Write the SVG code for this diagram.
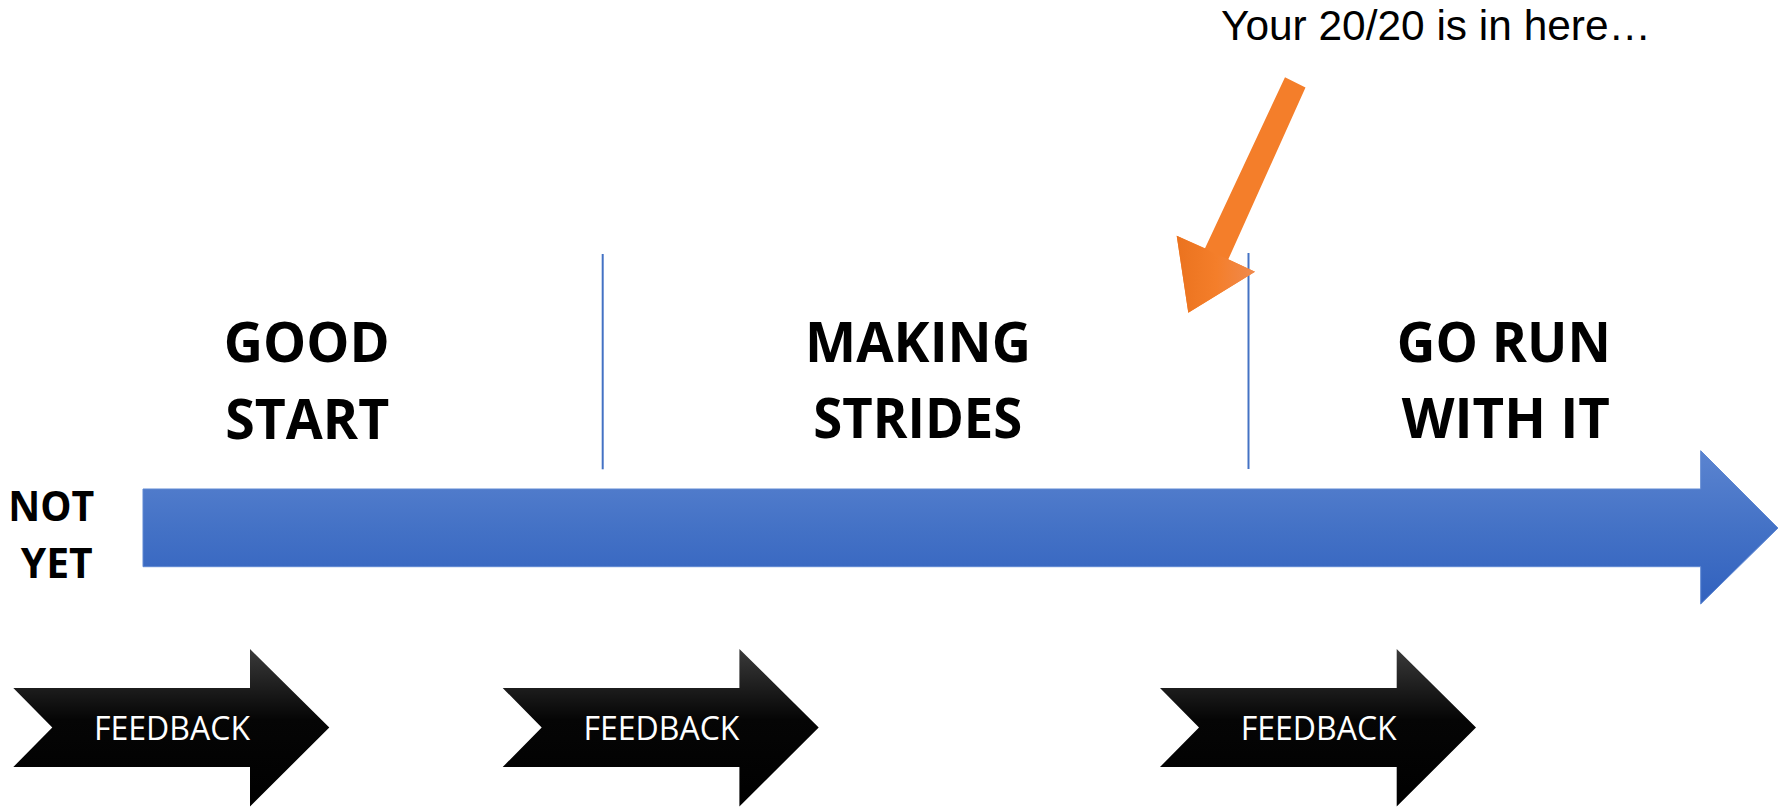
<svg xmlns="http://www.w3.org/2000/svg" width="1785" height="808" viewBox="0 0 1785 808">
  <style>
    .stage { font-family: "Open Sans", "Liberation Sans", sans-serif; font-weight: 700; font-size: 56px; fill: #000; text-anchor: middle; }
    .side { font-family: "Open Sans", "Liberation Sans", sans-serif; font-weight: 700; font-size: 42px; fill: #000; text-anchor: middle; }
    .fb { font-family: "Open Sans", "Liberation Sans", sans-serif; font-weight: 400; font-size: 32px; fill: #fff; text-anchor: middle; }
    .note { font-family: "Liberation Sans", "Open Sans", sans-serif; font-weight: 400; font-size: 42px; fill: #000; }
    .divider { stroke: #4472C4; stroke-width: 2; fill: none; }
    .fbshape { fill: url(#blackGrad); }
  </style>
  <defs>
    <linearGradient id="blueGrad" gradientUnits="userSpaceOnUse" x1="0" y1="450" x2="0" y2="605">
      <stop offset="0" stop-color="#5B84D0"/>
      <stop offset="0.5" stop-color="#4472C6"/>
      <stop offset="1" stop-color="#3161BE"/>
    </linearGradient>
    <linearGradient id="blackGrad" x1="0" y1="0" x2="0" y2="1">
      <stop offset="0" stop-color="#3a3a3a"/>
      <stop offset="0.45" stop-color="#050505"/>
      <stop offset="1" stop-color="#000"/>
    </linearGradient>
    <linearGradient id="orangeHead" gradientUnits="userSpaceOnUse" x1="1178" y1="270" x2="1255" y2="272">
      <stop offset="0" stop-color="#EB731F"/>
      <stop offset="0.5" stop-color="#F47E2A"/>
      <stop offset="1" stop-color="#F08A4E"/>
    </linearGradient>
  </defs>

  <g id="timeline">
    <path d="M143,489 L1700.7,489 L1700.7,450.7 L1778,528 L1700.7,604 L1700.7,566.7 L143,566.7 Z" fill="url(#blueGrad)" stroke="#5F88D2" stroke-width="1"/>
  </g>

  <g id="dividers">
    <line class="divider" x1="602.7" y1="254" x2="602.7" y2="469.3"/>
    <line class="divider" x1="1248.5" y1="253" x2="1248.5" y2="469"/>
  </g>

  <g id="not-yet">
    <text class="side" x="51.3" y="521" textLength="86" lengthAdjust="spacingAndGlyphs">NOT</text>
    <text class="side" x="56.7" y="577.7" textLength="72" lengthAdjust="spacingAndGlyphs">YET</text>
  </g>

  <g id="good-start">
    <text class="stage" x="306.7" y="361.7" textLength="166" lengthAdjust="spacingAndGlyphs">GOOD</text>
    <text class="stage" x="307.2" y="439" textLength="164" lengthAdjust="spacingAndGlyphs">START</text>
  </g>

  <g id="making-strides">
    <text class="stage" x="918" y="361.7" textLength="226" lengthAdjust="spacingAndGlyphs">MAKING</text>
    <text class="stage" x="917.8" y="438.3" textLength="209" lengthAdjust="spacingAndGlyphs">STRIDES</text>
  </g>

  <g id="go-run">
    <text class="stage" x="1503.8" y="361.7" textLength="214" lengthAdjust="spacingAndGlyphs">GO RUN</text>
    <text class="stage" x="1505.8" y="438.3" textLength="208" lengthAdjust="spacingAndGlyphs">WITH IT</text>
  </g>

  <g id="note">
    <text class="note" x="1221" y="40" textLength="430" lengthAdjust="spacingAndGlyphs">Your 20/20 is in here…</text>
  </g>

  <g id="feedback-1">
    <path class="fbshape" d="M13.3,688 L250,688 L250,649 L329.3,727.5 L250,806.5 L250,767 L13.3,767 L52.3,727.5 Z"/>
    <text class="fb" x="172" y="740" textLength="156" lengthAdjust="spacingAndGlyphs">FEEDBACK</text>
  </g>
  <g id="feedback-2">
    <path class="fbshape" d="M502.7,688 L739.4,688 L739.4,649 L818.7,727.5 L739.4,806.5 L739.4,767 L502.7,767 L541.7,727.5 Z"/>
    <text class="fb" x="661.4" y="740" textLength="156" lengthAdjust="spacingAndGlyphs">FEEDBACK</text>
  </g>
  <g id="feedback-3">
    <path class="fbshape" d="M1160,688 L1396.7,688 L1396.7,649 L1476,727.5 L1396.7,806.5 L1396.7,767 L1160,767 L1199,727.5 Z"/>
    <text class="fb" x="1318.7" y="740" textLength="156" lengthAdjust="spacingAndGlyphs">FEEDBACK</text>
  </g>

  <g id="connectors">
    <path d="M1285,77.3 L1305.5,87.5 L1228.3,259.3 L1255,271.7 L1188.3,312.7 L1176.7,235.7 L1205,248.3 Z" fill="#F47E2A"/>
    <path d="M1176.7,235.7 L1255,271.7 L1188.3,312.7 Z" fill="url(#orangeHead)"/>
  </g>
</svg>
